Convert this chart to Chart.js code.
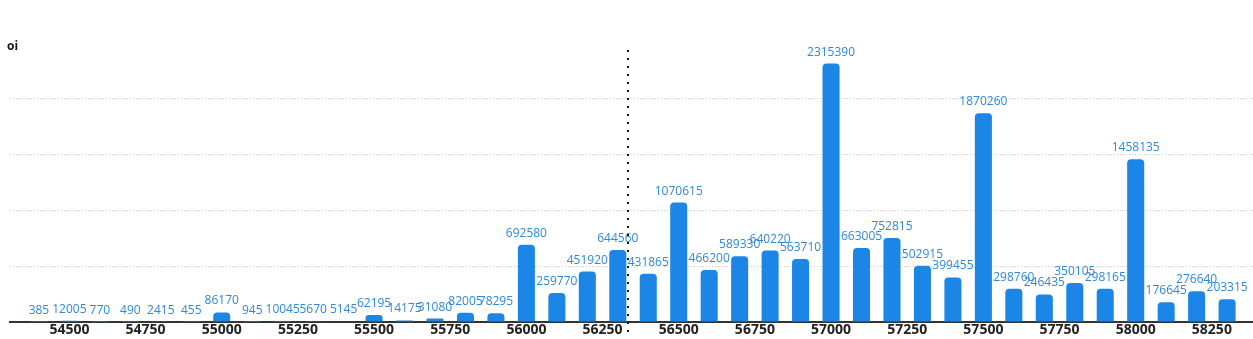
<!DOCTYPE html>
<html>
<head>
<meta charset="utf-8">
<script src="https://cdn.jsdelivr.net/npm/chart.js@4.4.1/dist/chart.umd.min.js"></script>
<style>
  html, body { margin: 0; padding: 0; background: #fff; }
  #wrap { width: 1253px; height: 339px; position: relative; }
</style>
</head>
<body>
<div id="wrap"><canvas id="oiChart"></canvas></div>
<script>
// strikes and open interest
var strikes = [54400, 54500, 54600, 54700, 54800, 54900, 55000, 55100, 55200, 55300,
               55400, 55500, 55600, 55700, 55800, 55900, 56000, 56100, 56200, 56300,
               56400, 56500, 56600, 56700, 56800, 56900, 57000, 57100, 57200, 57300,
               57400, 57500, 57600, 57700, 57800, 57900, 58000, 58100, 58200, 58300];
var oiValues = [385, 12005, 770, 490, 2415, 455, 86170, 945, 10045, 5670,
                5145, 62195, 14175, 31080, 82005, 78295, 692580, 259770, 451920, 644560,
                431865, 1070615, 466200, 589330, 640220, 563710, 2315390, 663005, 752815, 502915,
                399455, 1870260, 298760, 246435, 350105, 298165, 1458135, 176645, 276640, 203315];
var xTickValues = [54500, 54750, 55000, 55250, 55500, 55750, 56000, 56250,
                   56500, 56750, 57000, 57250, 57500, 57750, 58000, 58250];
var spotPrice = 56333;
var titulo = "oi";

var barColor = "#1b86e6";
var labelColor = "#2f88d8";

var valueLabels = {
    id: "valueLabels",
    afterDatasetsDraw: function (chart) {
        var ctx = chart.ctx;
        var meta = chart.getDatasetMeta(0);
        ctx.save();
        ctx.font = "12px 'Open Sans'";
        ctx.fillStyle = labelColor;
        ctx.textAlign = "center";
        ctx.textBaseline = "alphabetic";
        meta.data.forEach(function (bar, i) {
            ctx.fillText(String(oiValues[i]), bar.x, bar.y - 8);
        });
        ctx.restore();
    }
};

var spotLine = {
    id: "spotLine",
    afterDraw: function (chart) {
        var ctx = chart.ctx;
        var x = Math.round(chart.scales.x.getPixelForValue(spotPrice));
        ctx.save();
        ctx.strokeStyle = "#111";
        ctx.lineWidth = 2;
        ctx.setLineDash([2, 6]);
        ctx.beginPath();
        ctx.moveTo(x, 50);
        ctx.lineTo(x, 337);
        ctx.stroke();
        ctx.setLineDash([]);
        ctx.font = "bold 12px 'Open Sans'";
        ctx.fillStyle = "#111";
        ctx.textAlign = "left";
        ctx.fillText(titulo, 7, 50);
        ctx.restore();
    }
};

var ctx = document.getElementById("oiChart").getContext("2d");
new Chart(ctx, {
    type: "bar",
    data: {
        datasets: [{
            label: titulo,
            data: strikes.map(function (s, i) { return { x: s, y: oiValues[i] }; }),
            backgroundColor: barColor,
            borderRadius: 4,
            barPercentage: 0.7,
            categoryPercentage: 0.8
        }]
    },
    options: {
        animation: false,
        responsive: true,
        maintainAspectRatio: false,
        layout: { padding: { left: 10, right: 0, top: 43, bottom: 0 } },
        plugins: {
            legend: { display: false },
            tooltip: { enabled: false }
        },
        scales: {
            x: {
                type: "linear",
                offset: false,
                min: 54305,
                max: 58385,
                afterBuildTicks: function (axis) {
                    axis.ticks = xTickValues.map(function (v) { return { value: v }; });
                },
                grid: { display: false, drawTicks: false },
                border: { display: true, color: "#333", width: 2 },
                ticks: {
                    autoSkip: false,
                    maxRotation: 0,
                    padding: 1.5,
                    color: "#222",
                    font: { family: "'Open Sans'", size: 14, weight: "bold", lineHeight: 1 },
                    callback: function (v) { return String(v); }
                }
            },
            y: {
                min: 0,
                max: 2500000,
                afterBuildTicks: function (axis) {
                    axis.ticks = [0, 500000, 1000000, 1500000, 2000000, 2500000].map(function (v) { return { value: v }; });
                },
                ticks: { display: false },
                border: { display: false, dash: [1, 2] },
                grid: {
                    drawTicks: false,
                    color: function (c) {
                        var v = c.tick.value;
                        return (v === 0 || v === 2500000) ? "rgba(0,0,0,0)" : "#c9c9c9";
                    },
                    lineWidth: 1
                }
            }
        }
    },
    plugins: [valueLabels, spotLine]
});
</script>
</body>
</html>
